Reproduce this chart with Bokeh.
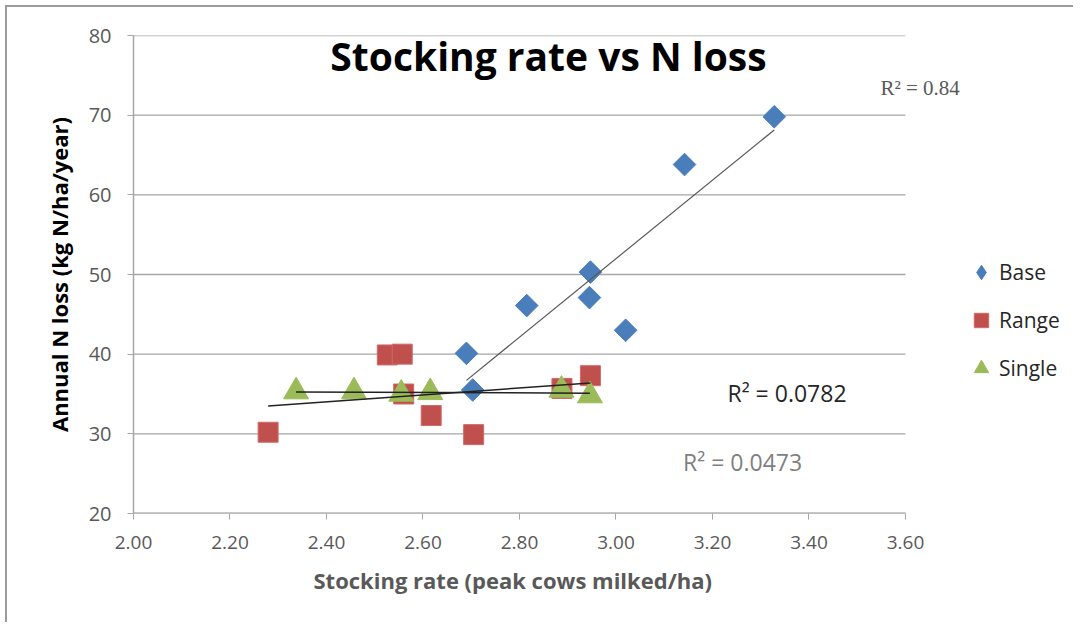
import numpy as np
from bokeh.plotting import figure
from bokeh.models import Label, Legend, LegendItem, FixedTicker, NumeralTickFormatter, Range1d, Title
from bokeh.embed import file_html
from bokeh.resources import INLINE

# ---- data ----
base_x = [2.690, 2.703, 2.815, 2.945, 2.947, 3.020, 3.142, 3.328]
base_y = [40.1, 35.5, 46.1, 47.1, 50.3, 43.0, 63.8, 69.8]
range_x = [2.279, 2.526, 2.557, 2.560, 2.617, 2.705, 2.888, 2.947]
range_y = [30.2, 39.9, 40.0, 35.0, 32.3, 29.9, 35.7, 37.3]
single_x = [2.337, 2.457, 2.555, 2.615, 2.887, 2.946]
single_y = [35.3, 35.3, 35.0, 35.2, 35.5, 34.8]
x_ticks = [2.0, 2.2, 2.4, 2.6, 2.8, 3.0, 3.2, 3.4, 3.6]
y_ticks = [20, 30, 40, 50, 60, 70, 80]
r2_labels = ["R\u00b2 = 0.84", "R\u00b2 = 0.0782", "R\u00b2 = 0.0473"]

OFF = 7  # outer chart border inset
W, H = 1075 - OFF, 624 - OFF
x_end = 3.942
p = figure(width=W, height=H, output_backend="svg", toolbar_location=None,
           x_range=Range1d(x_ticks[0], x_end), y_range=Range1d(y_ticks[0], y_ticks[-1]),
           min_border_left=133 - OFF, min_border_right=5, min_border_top=35 - OFF,
           min_border_bottom=111)
p.styles = {"margin-top": "5px", "margin-left": "5px",
            "border-top": "2px solid #9c9c9c", "border-left": "2px solid #9c9c9c"}
p.outline_line_color = None
p.background_fill_color = "white"
p.border_fill_color = "white"

AX = "#a6a6a6"
p.xaxis.ticker = FixedTicker(ticks=x_ticks)
p.yaxis.ticker = FixedTicker(ticks=y_ticks)
p.xaxis.formatter = NumeralTickFormatter(format="0.00")
for ax in (p.xaxis[0], p.yaxis[0]):
    ax.axis_line_color = AX
    ax.axis_line_width = 1.5
    ax.major_tick_line_color = AX
    ax.minor_tick_line_color = None
    ax.major_tick_in = 0
    ax.major_tick_out = 6
    ax.major_label_text_font = "Open Sans"
    ax.major_label_text_color = "#595959"
p.xaxis.axis_line_color = None
p.xaxis.major_label_text_font_size = "19px"
p.yaxis.major_label_text_font_size = "20px"
p.xaxis.major_label_standoff = 16
p.yaxis.major_label_standoff = 16
p.yaxis.axis_label = "Annual N loss (kg N/ha/year)"
p.yaxis.axis_label_text_font = "Open Sans"
p.yaxis.axis_label_text_font_size = "22px"
p.yaxis.axis_label_text_font_style = "bold"
p.yaxis.axis_label_text_color = "#000000"
p.yaxis.axis_label_standoff = 12

# x-axis title, centred under the tick span
p.add_layout(Title(text="Stocking rate (peak cows milked/ha)", align="left", offset=180,
                   text_font="Open Sans", text_font_size="22px", text_font_style="bold",
                   text_color="#595959", standoff=22), "below")

p.xgrid.grid_line_color = None
p.ygrid.grid_line_color = None
p.segment(x0=[x_ticks[0]] * len(y_ticks), x1=[x_ticks[-1]] * len(y_ticks),
          y0=y_ticks, y1=y_ticks, line_color=AX, line_width=1.3)
p.line([x_ticks[0], x_ticks[-1]], [y_ticks[0], y_ticks[0]], line_color=AX, line_width=1.8)

def trend(xs, ys, color, width):
    m, b = np.polyfit(xs, ys, 1)
    x0, x1 = min(xs), max(xs)
    p.line([x0, x1], [m * x0 + b, m * x1 + b], line_color=color, line_width=width)

BLUE, RED, GREEN = "#4a7ebb", "#c0504d", "#9bbb59"
p.scatter(base_x, base_y, marker="square", angle=np.pi / 4, size=16,
          fill_color=BLUE, line_color=BLUE)
r_range = p.scatter(range_x, range_y, marker="square", size=20,
                    fill_color=RED, line_color="#d06a67")
r_single = p.scatter(single_x, single_y, marker="triangle", size=25,
                     fill_color=GREEN, line_color=GREEN)
# legend key for the diamonds (not drawn in the plot area)
r_base_key = p.scatter(x=[float("nan")], y=[float("nan")], marker="diamond",
                       fill_color=BLUE, line_color=BLUE)
trend(base_x, base_y, "#595959", 1.2)
trend(range_x, range_y, "#222222", 1.5)
trend(single_x, single_y, "#222222", 1.5)

p.add_layout(Label(x=2.86, y=77.5, text="Stocking rate vs N loss", text_font="Open Sans",
                   text_font_size="39px", text_font_style="bold", text_align="center",
                   text_baseline="middle", text_color="#000000"))
p.add_layout(Label(x=3.548, y=73.4, text=r2_labels[0], text_font="Liberation Serif",
                   text_font_size="21px", text_baseline="middle", text_color="#595959"))
p.add_layout(Label(x=3.231, y=35.1, text=r2_labels[1], text_font="Open Sans",
                   text_font_size="23px", text_baseline="middle", text_color="#262626"))
p.add_layout(Label(x=3.139, y=26.5, text=r2_labels[2], text_font="Open Sans",
                   text_font_size="23px", text_baseline="middle", text_color="#7f7f7f"))

legend = Legend(items=[LegendItem(label="Base", renderers=[r_base_key]),
                       LegendItem(label="Range", renderers=[r_range]),
                       LegendItem(label="Single", renderers=[r_single])],
                location=(830, 125), orientation="vertical")
legend.border_line_color = None
legend.background_fill_alpha = 0
legend.padding = 0
legend.margin = 0
legend.spacing = 8
legend.glyph_width = 36
legend.glyph_height = 40
legend.label_standoff = 0
legend.label_height = 40
legend.label_text_font = "Open Sans"
legend.label_text_font_size = "21px"
legend.label_text_color = "#262626"
p.add_layout(legend)

open("out.html", "w").write(file_html(p, INLINE))
